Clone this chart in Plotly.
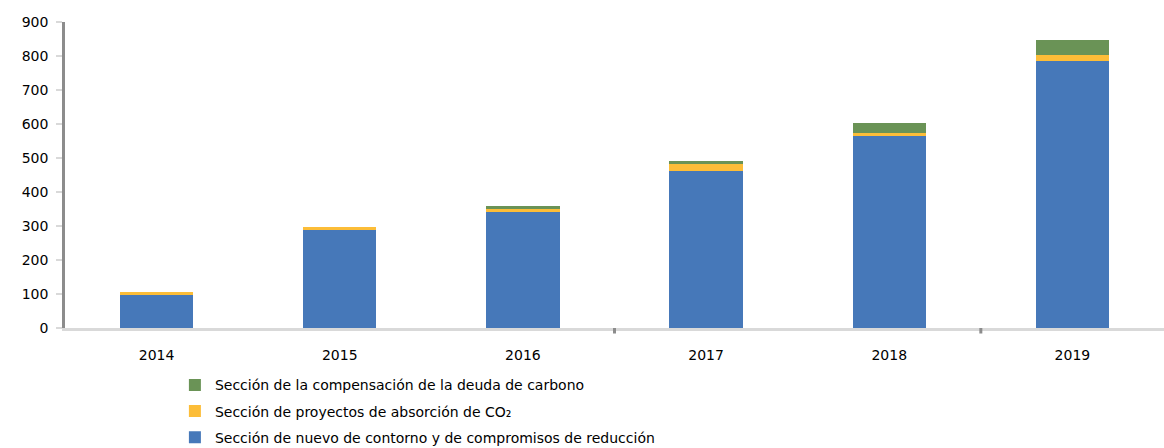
import plotly.graph_objects as go

# Years on the category axis
years = ["2014", "2015", "2016", "2017", "2018", "2019"]

# Stacked series values
reduccion = [97, 289, 342, 463, 566, 785]
absorcion = [9, 9, 9, 18, 9, 17]
compensacion = [0, 0, 9, 9, 27, 45]

# Series names shown in the legend
name_reduccion = "Sección de nuevo de contorno y de compromisos de reducción"
name_absorcion = "Sección de proyectos de absorción de CO₂"
name_compensacion = "Sección de la compensación de la deuda de carbono"

y_ticks = [0, 100, 200, 300, 400, 500, 600, 700, 800, 900]

FONT = "DejaVu Sans"

fig = go.Figure()
fig.add_trace(go.Bar(x=years, y=reduccion, name=name_reduccion,
                     marker=dict(color="#4678b9", line=dict(width=0)),
                     legendgroup="a", legendrank=3))
fig.add_trace(go.Bar(x=years, y=absorcion, name=name_absorcion,
                     marker=dict(color="#fcbd38", line=dict(width=0)),
                     legendgroup="b", legendrank=2))
fig.add_trace(go.Bar(x=years, y=compensacion, name=name_compensacion,
                     marker=dict(color="#6a9356", line=dict(width=0)),
                     legendgroup="c", legendrank=1))

# Small dividing ticks under the category axis
for pos in (2.5, 4.5):
    fig.add_shape(type="line", xref="x", yref="paper", x0=pos, x1=pos,
                  y0=0, y1=-0.018, line=dict(color="#8c8c8c", width=3))

fig.update_layout(
    width=1164, height=448,
    barmode="stack", bargap=0.6,
    margin=dict(l=65, r=0, t=22, b=120, autoexpand=False),
    plot_bgcolor="white", paper_bgcolor="white",
    font=dict(family=FONT, size=14, color="#000000"),
    showlegend=True,
    legend=dict(
        traceorder="grouped", tracegroupgap=5,
        orientation="v",
        x=0.1, xanchor="left", y=-0.135, yanchor="top",
        font=dict(family=FONT, size=14, color="#000000"),
        itemwidth=30, bgcolor="rgba(0,0,0,0)",
    ),
    xaxis=dict(
        type="category", range=[-0.5, 5.5],
        showline=True, linecolor="#d9d9d9", linewidth=3,
        ticks="", showgrid=False, ticklabelstandoff=12,
        tickfont=dict(family=FONT, size=14, color="#000000"),
    ),
    yaxis=dict(
        range=[0, 900], tickvals=y_ticks,
        ticktext=[str(v) for v in y_ticks],
        showline=True, linecolor="#8c8c8c", linewidth=2.5,
        ticks="outside", ticklen=6, tickcolor="#d9d9d9", tickwidth=2,
        showgrid=False, zeroline=False, ticklabelstandoff=5,
        tickfont=dict(family=FONT, size=14, color="#000000"),
    ),
)

fig.write_html("out.html")
